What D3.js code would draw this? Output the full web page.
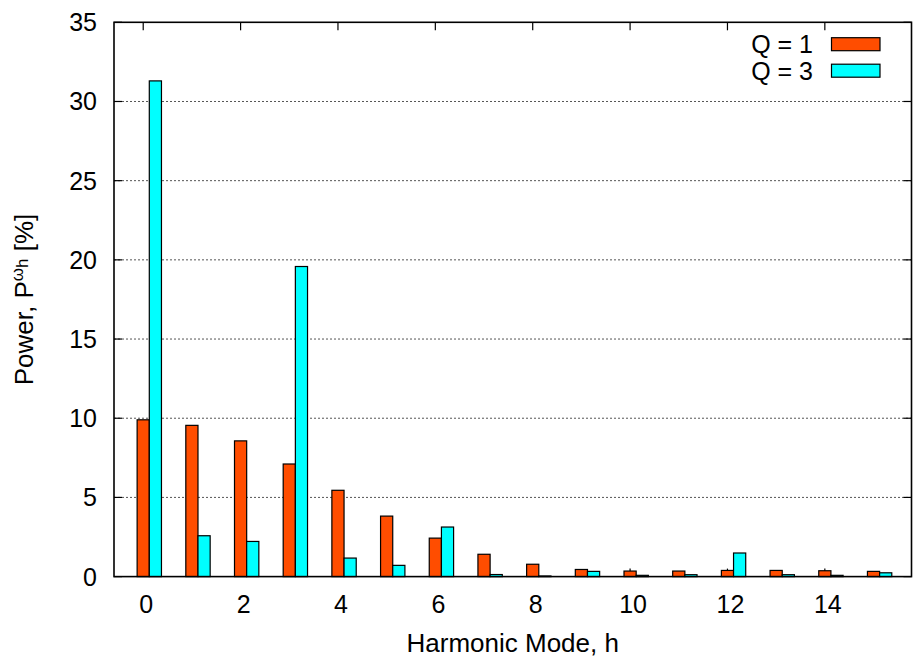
<!DOCTYPE html>
<html>
<head>
<meta charset="utf-8">
<script src="https://cdn.jsdelivr.net/npm/d3@7"></script>
<style>
  html, body { margin: 0; padding: 0; background: #fff; }
  svg { display: block; font-family: "Liberation Sans", Arial, Helvetica, sans-serif; }
</style>
</head>
<body>
<svg id="chart" width="916" height="660"></svg>
<script>
// Harmonic modes h = 0..15
const modes = [0, 1, 2, 3, 4, 5, 6, 7, 8, 9, 10, 11, 12, 13, 14, 15];
// Power share per harmonic mode [%]
const q1Values = [9.9, 9.55, 8.57, 7.11, 5.45, 3.82, 2.43, 1.41, 0.78, 0.45, 0.35, 0.35, 0.39, 0.39, 0.37, 0.33];
const q3Values = [31.3, 2.58, 2.22, 19.58, 1.17, 0.71, 3.13, 0.13, 0.04, 0.33, 0.08, 0.12, 1.49, 0.12, 0.08, 0.24];
const seriesNames = ["Q = 1", "Q = 3"];
const seriesColors = ["#ff4d00", "#00ffff"];
const yTicks = [0, 5, 10, 15, 20, 25, 30, 35];
const xTicks = [0, 2, 4, 6, 8, 10, 12, 14];

const svg = d3.select("#chart");
const plot = { left: 114, right: 911.5, top: 22.3, bottom: 576.6 };

const x = d3.scaleLinear().domain([-0.6, 15.78]).range([plot.left, plot.right]);
const y = d3.scaleLinear().domain([0, 35]).range([plot.bottom, plot.top]);
const barW = 0.25; // bar width in mode units

// Dotted horizontal grid
svg.append("g").selectAll("line")
  .data(yTicks.filter(d => d > 0 && d < 35))
  .join("line")
  .attr("x1", plot.left).attr("x2", plot.right)
  .attr("y1", d => y(d)).attr("y2", d => y(d))
  .attr("stroke", "#555").attr("stroke-width", 1)
  .attr("stroke-dasharray", "2,2");

// Inward tick marks on all four sides
const tickLen = 8;
const ticks = svg.append("g").attr("stroke", "#000").attr("stroke-width", 1.2);
yTicks.forEach(v => {
  ticks.append("line").attr("x1", plot.left).attr("x2", plot.left + tickLen)
    .attr("y1", y(v)).attr("y2", y(v));
  ticks.append("line").attr("x1", plot.right).attr("x2", plot.right - tickLen)
    .attr("y1", y(v)).attr("y2", y(v));
});
xTicks.forEach(v => {
  ticks.append("line").attr("x1", x(v)).attr("x2", x(v))
    .attr("y1", plot.bottom).attr("y2", plot.bottom - tickLen);
  ticks.append("line").attr("x1", x(v)).attr("x2", x(v))
    .attr("y1", plot.top).attr("y2", plot.top + tickLen);
});

// Bars: Q = 1 centred on the mode, Q = 3 just to its right
const series = [q1Values, q3Values];
series.forEach((vals, si) => {
  svg.append("g").selectAll("rect")
    .data(modes.map((m, i) => ({ m, v: vals[i] })))
    .join("rect")
    .attr("x", d => x(d.m - barW / 2 + si * barW))
    .attr("width", x(barW) - x(0))
    .attr("y", d => y(d.v))
    .attr("height", d => y(0) - y(d.v))
    .attr("fill", seriesColors[si])
    .attr("stroke", "#000")
    .attr("stroke-width", 1.2);
});

// Frame
svg.append("rect")
  .attr("x", plot.left).attr("y", plot.top)
  .attr("width", plot.right - plot.left).attr("height", plot.bottom - plot.top)
  .attr("fill", "none").attr("stroke", "#000").attr("stroke-width", 1.6);

// Y tick labels
svg.append("g").selectAll("text")
  .data(yTicks).join("text")
  .attr("x", plot.left - 17).attr("y", d => y(d))
  .attr("text-anchor", "end").attr("dominant-baseline", "central")
  .attr("font-size", 25).attr("fill", "#000")
  .text(d => d);

// X tick labels
svg.append("g").selectAll("text")
  .data(xTicks).join("text")
  .attr("x", d => x(d) + 3).attr("y", plot.bottom + 36)
  .attr("text-anchor", "middle")
  .attr("font-size", 25).attr("fill", "#000")
  .text(d => d);

// Axis titles
svg.append("text")
  .attr("x", (plot.left + plot.right) / 2).attr("y", 651.5)
  .attr("text-anchor", "middle").attr("font-size", 26)
  .text("Harmonic Mode, h");

const yTitle = svg.append("text")
  .attr("transform", `translate(33, ${(plot.top + plot.bottom) / 2}) rotate(-90)`)
  .attr("text-anchor", "middle").attr("font-size", 26);
yTitle.append("tspan").text("Power, P");
yTitle.append("tspan").attr("font-size", 17).attr("dy", -10).text("ω");
yTitle.append("tspan").attr("font-size", 17).attr("dy", 5).text("h");
yTitle.append("tspan").attr("dy", 5).text(" [%]");

// Legend
const legend = svg.append("g");
seriesNames.forEach((name, i) => {
  const cy = 44.2 + i * 26.5;
  legend.append("text")
    .attr("x", 813).attr("y", cy)
    .attr("text-anchor", "end").attr("dominant-baseline", "central")
    .attr("font-size", 25).text(name);
  legend.append("rect")
    .attr("x", 831.5).attr("y", cy - 6.5)
    .attr("width", 48.5).attr("height", 13)
    .attr("fill", seriesColors[i]).attr("stroke", "#000").attr("stroke-width", 1.2);
});
</script>
</body>
</html>
